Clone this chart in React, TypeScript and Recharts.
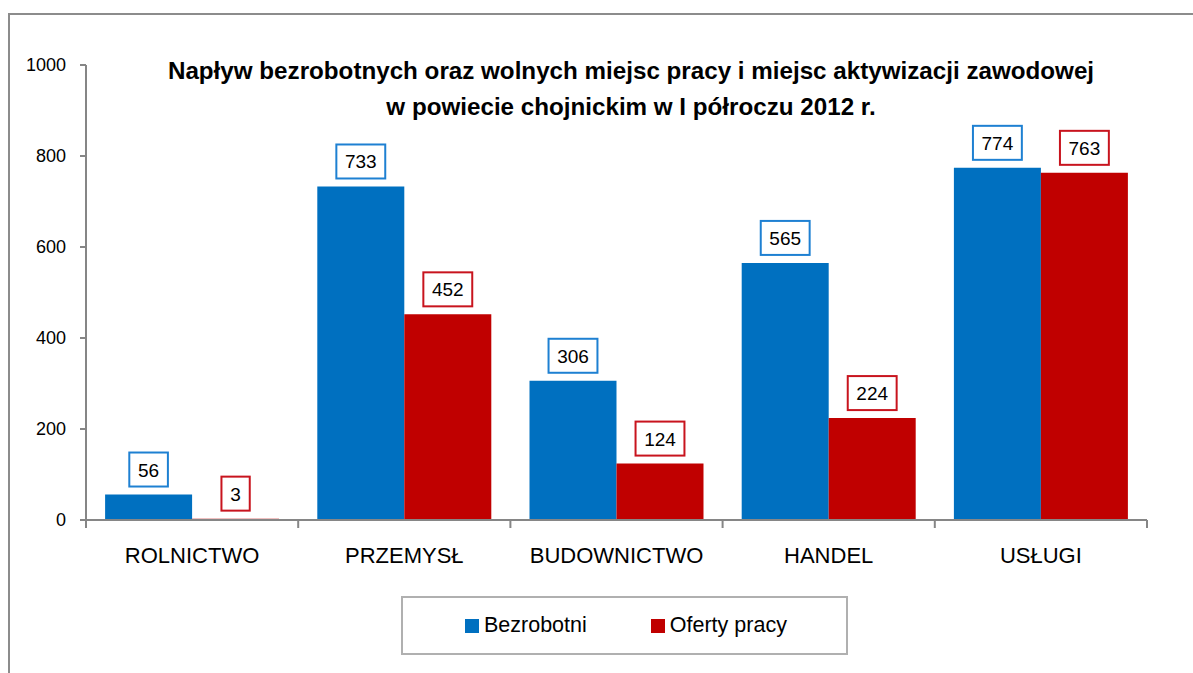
import { Bar, BarChart, LabelList, XAxis, YAxis } from "recharts";

// Napływ bezrobotnych vs oferty pracy – Excel-style grouped bars.

const CATEGORIES = ["ROLNICTWO", "PRZEMYSŁ", "BUDOWNICTWO", "HANDEL", "USŁUGI"];
const BEZROBOTNI = [56, 733, 306, 565, 774];
const OFERTY = [3, 452, 124, 224, 763];
const Y_TICKS = [0, 200, 400, 600, 800, 1000];

const TITLE_LINES = [
  "Napływ bezrobotnych oraz wolnych miejsc pracy i miejsc aktywizacji zawodowej",
  "w powiecie chojnickim w I półroczu 2012 r.",
];

const SERIES = [
  { key: "bezrobotni", name: "Bezrobotni", fill: "#0070C0", border: "#1E80D2" },
  { key: "oferty", name: "Oferty pracy", fill: "#C00000", border: "#C8141E" },
];

const data = CATEGORIES.map((cat, i) => ({
  cat,
  bezrobotni: BEZROBOTNI[i],
  oferty: OFERTY[i],
}));

const W = 1193;
const H = 673;
const PLOT_LEFT = 86;
const PLOT_RIGHT = 1147;
const PLOT_TOP = 65;
const PLOT_BOTTOM = 520;
const BAND = (PLOT_RIGHT - PLOT_LEFT) / CATEGORIES.length;
const AXIS = "#868686";
const FONT = "'Liberation Sans', Arial, sans-serif";

// x-axis tick: category name plus Excel-like tick marks on band boundaries
function CategoryTick(props: any) {
  const { x, y, payload, index } = props;
  return (
    <g>
      <line x1={x - BAND / 2} x2={x - BAND / 2} y1={y} y2={y + 8} stroke={AXIS} strokeWidth={2} />
      {index === CATEGORIES.length - 1 && (
        <line x1={x + BAND / 2} x2={x + BAND / 2} y1={y} y2={y + 8} stroke={AXIS} strokeWidth={2} />
      )}
      <text x={x} y={y + 43} textAnchor="middle" fontSize={22} fill="#000" fontFamily={FONT}>
        {payload.value}
      </text>
    </g>
  );
}

function boxedLabel(border: string) {
  return (props: any) => {
    const { x, y, width, value } = props;
    const txt = String(value);
    const bw = 18 + 10.3 * txt.length;
    const bh = 34;
    const cx = x + width / 2;
    const bottom = y - 8;
    return (
      <g>
        <rect x={cx - bw / 2} y={bottom - bh} width={bw} height={bh} fill="#fff" stroke={border} strokeWidth={2} />
        <text
          x={cx}
          y={bottom - bh / 2 + 7}
          textAnchor="middle"
          fontSize={19}
          fill="#000"
          fontFamily={FONT}
        >
          {txt}
        </text>
      </g>
    );
  };
}

export default function App() {
  return (
    <div style={{ position: "absolute", left: 0, top: 0, width: W, height: H, overflow: "hidden", background: "#fff", fontFamily: FONT }}>
      {/* chart area frame, runs past the window on the right and bottom */}
      <div style={{ position: "absolute", left: 8, top: 13, width: 1300, height: 800, border: "2px solid #8c8c8c", boxSizing: "border-box" }} />

      <BarChart
        width={W}
        height={H}
        data={data}
        margin={{ top: PLOT_TOP, right: W - PLOT_RIGHT, bottom: H - PLOT_BOTTOM - 30, left: 0 }}
        barCategoryGap="9%"
        barGap={0}
        style={{ position: "absolute", left: 0, top: 0 }}
      >
        <XAxis
          dataKey="cat"
          height={30}
          tickLine={false}
          tickSize={0}
          tickMargin={0}
          axisLine={{ stroke: AXIS, strokeWidth: 2 }}
          tick={<CategoryTick />}
          interval={0}
        />
        <YAxis
          width={PLOT_LEFT}
          domain={[0, 1000]}
          ticks={Y_TICKS}
          interval={0}
          tickSize={6}
          tickMargin={14}
          axisLine={{ stroke: AXIS, strokeWidth: 2 }}
          tickLine={{ stroke: AXIS, strokeWidth: 2 }}
          tick={{ fill: "#000", fontSize: 18, fontFamily: FONT }}
        />
        {SERIES.map((s) => (
          <Bar key={s.key} dataKey={s.key} name={s.name} fill={s.fill} isAnimationActive={false}>
            <LabelList dataKey={s.key} content={boxedLabel(s.border)} />
          </Bar>
        ))}
      </BarChart>

      {/* title */}
      <div
        style={{
          position: "absolute",
          left: 0,
          width: 1262,
          top: 53,
          textAlign: "center",
          fontWeight: "bold",
          fontSize: 24.2,
          lineHeight: "36px",
          color: "#000",
        }}
      >
        {TITLE_LINES.map((t) => (
          <div key={t}>{t}</div>
        ))}
      </div>

      {/* legend */}
      <div
        style={{
          position: "absolute",
          left: 401,
          top: 596,
          width: 447,
          height: 59,
          border: "2px solid #b0b0b0",
          boxSizing: "border-box",
          display: "flex",
          alignItems: "center",
          paddingLeft: 62,
          gap: 64,
          fontSize: 21.5,
          color: "#000",
        }}
      >
        {SERIES.map((s) => (
          <div key={s.key} style={{ display: "flex", alignItems: "center" }}>
            <span style={{ display: "inline-block", width: 14, height: 14, background: s.fill, marginRight: 5 }} />
            <span>{s.name}</span>
          </div>
        ))}
      </div>
    </div>
  );
}
